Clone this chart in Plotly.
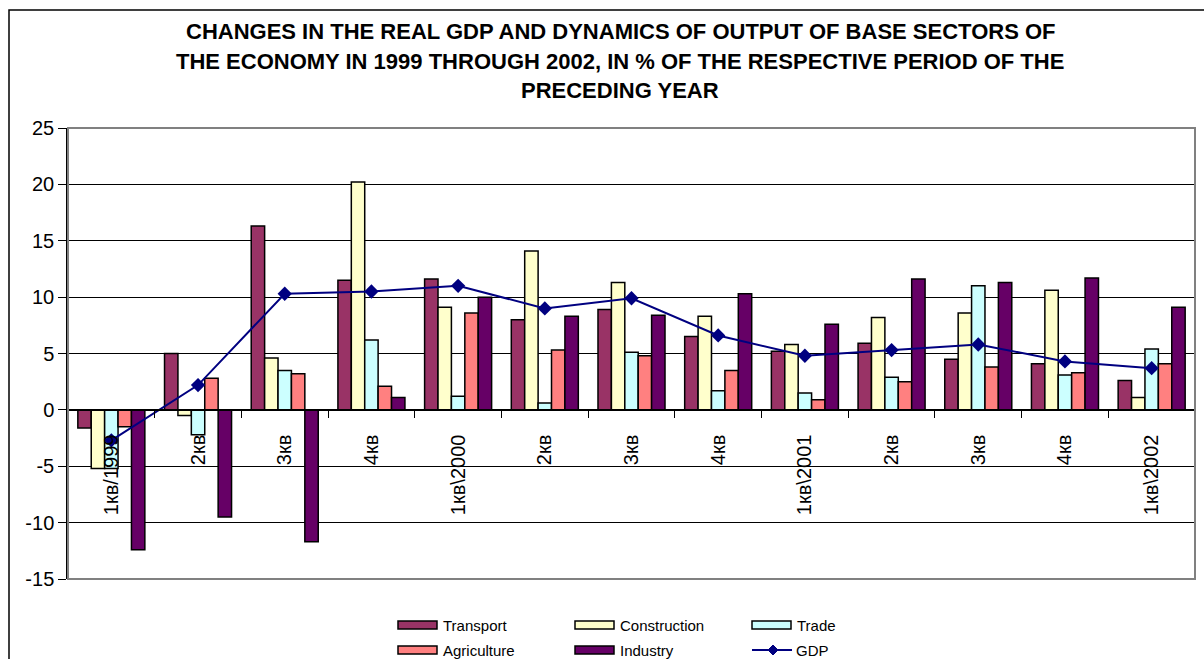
import plotly.graph_objects as go

# Quarter labels along the category axis
quarters = ["1кв/1999", "2кв", "3кв", "4кв", "1кв\\2000", "2кв", "3кв", "4кв",
            "1кв\\2001", "2кв", "3кв", "4кв", "1кв\\2002"]

# Output growth by sector, % of the same period of the preceding year
transport = [-1.6, 5.0, 16.3, 11.5, 11.6, 8.0, 8.9, 6.5, 5.2, 5.9, 4.5, 4.1, 2.6]
construction = [-5.2, -0.5, 4.6, 20.2, 9.1, 14.1, 11.3, 8.3, 5.8, 8.2, 8.6, 10.6, 1.1]
trade = [-5.2, -2.2, 3.5, 6.2, 1.2, 0.6, 5.1, 1.7, 1.5, 2.9, 11.0, 3.1, 5.4]
agriculture = [-1.5, 2.8, 3.2, 2.1, 8.6, 5.3, 4.8, 3.5, 0.9, 2.5, 3.8, 3.3, 4.1]
industry = [-12.4, -9.5, -11.7, 1.1, 10.0, 8.3, 8.4, 10.3, 7.6, 11.6, 11.3, 11.7, 9.1]
gdp = [-2.7, 2.2, 10.3, 10.5, 11.0, 9.0, 9.9, 6.6, 4.8, 5.3, 5.8, 4.3, 3.7]

y_ticks = [-15, -10, -5, 0, 5, 10, 15, 20, 25]

title_lines = [
    "CHANGES IN THE REAL GDP AND DYNAMICS OF OUTPUT OF BASE SECTORS OF",
    "THE ECONOMY IN 1999 THROUGH 2002, IN % OF THE RESPECTIVE PERIOD OF THE",
    "PRECEDING YEAR",
]

bar_series = [
    ("Transport", transport, "#993366"),
    ("Construction", construction, "#FFFFCC"),
    ("Trade", trade, "#CCFFFF"),
    ("Agriculture", agriculture, "#FF8080"),
    ("Industry", industry, "#660066"),
]
gdp_name, gdp_color = "GDP", "#000080"

FONT = "Arial, Liberation Sans, sans-serif"
W, H = 1204, 659
ML, MR, MT, MB = 68, 9, 128, 80
PW, PH = W - ML - MR, H - MT - MB


def px(xp):
    """Pixel column -> paper x."""
    return (xp - ML) / PW


def py(yp):
    """Pixel row -> paper y."""
    return (H - MB - yp) / PH


xs = list(range(len(quarters)))

fig = go.Figure()
for name, vals, color in bar_series:
    fig.add_trace(go.Bar(
        x=xs, y=vals, name=name, marker=dict(color=color, line=dict(color="black", width=1.5)),
        showlegend=False,
    ))

fig.add_trace(go.Scatter(
    x=xs, y=gdp, name=gdp_name, mode="lines+markers",
    line=dict(color=gdp_color, width=2),
    marker=dict(symbol="diamond", size=11, color=gdp_color),
    showlegend=False,
))

shapes = []
annotations = []

# plot-area frame
shapes.append(dict(type="rect", xref="paper", yref="paper", x0=0, x1=1, y0=0, y1=1,
                   line=dict(color="#808080", width=2), layer="above"))
# outer chart frame
shapes.append(dict(type="rect", xref="paper", yref="paper",
                   x0=px(9), x1=px(W + 10), y0=py(H + 10), y1=py(10),
                   line=dict(color="black", width=1.5), layer="above"))

# title
for line, yc in zip(title_lines, [32, 61, 90]):
    annotations.append(dict(text="<b>%s</b>" % line, xref="paper", yref="paper",
                            x=px(620), y=py(yc), xanchor="center", yanchor="middle",
                            showarrow=False, font=dict(family=FONT, size=22, color="black")))

# legend: 2 rows x 3 columns
legend_cols = [398, 575, 752]
legend_rows = [625, 650]
entries = [(n, c, "bar") for n, _, c in bar_series] + [(gdp_name, gdp_color, "line")]
sw_w, sw_h = 39, 8
for i, (name, color, kind) in enumerate(entries):
    x0 = legend_cols[i % 3]
    yc = legend_rows[i // 3]
    if kind == "bar":
        shapes.append(dict(type="rect", xref="paper", yref="paper",
                           x0=px(x0), x1=px(x0 + sw_w), y0=py(yc + sw_h / 2), y1=py(yc - sw_h / 2),
                           fillcolor=color, line=dict(color="black", width=1.5)))
        tx = x0 + sw_w + 4
    else:
        shapes.append(dict(type="line", xref="paper", yref="paper",
                           x0=px(x0), x1=px(x0 + 40), y0=py(yc), y1=py(yc),
                           line=dict(color=color, width=2)))
        cx, d = x0 + 21, 5
        path = "M {} {} L {} {} L {} {} L {} {} Z".format(
            px(cx - d), py(yc), px(cx), py(yc - d), px(cx + d), py(yc), px(cx), py(yc + d))
        shapes.append(dict(type="path", xref="paper", yref="paper", path=path,
                           fillcolor=color, line=dict(color=color, width=1)))
        tx = x0 + 42
    annotations.append(dict(text=name, xref="paper", yref="paper", x=px(tx), y=py(yc),
                            xanchor="left", yanchor="middle", showarrow=False,
                            font=dict(family=FONT, size=15, color="black")))

fig.update_layout(
    width=W, height=H,
    margin=dict(l=ML, r=MR, t=MT, b=MB, pad=0),
    paper_bgcolor="white", plot_bgcolor="white",
    barmode="group", bargap=0.227, bargroupgap=0,
    shapes=shapes, annotations=annotations,
    font=dict(family=FONT, color="black"),
    xaxis=dict(
        range=[-0.5, len(quarters) - 0.5],
        anchor="free", position=15 / 40,
        tickmode="array", tickvals=xs, ticktext=quarters, tickangle=-90,
        ticks="outside", ticklen=6, tickcolor="rgba(0,0,0,0)",
        ticklabelstandoff=10,
        tickfont=dict(family=FONT, size=20, color="black"),
        minor=dict(tickmode="array", tickvals=[i - 0.5 for i in range(len(quarters) + 1)],
                   ticks="outside", ticklen=7, tickcolor="black", tickwidth=1, showgrid=False),
        showline=True, linecolor="black", linewidth=1.5,
        showgrid=False, zeroline=False,
    ),
    yaxis=dict(
        range=[-15, 25], tickmode="array", tickvals=y_ticks,
        ticktext=[str(v) for v in y_ticks],
        ticks="outside", ticklen=8, tickcolor="black", tickwidth=1,
        tickfont=dict(family=FONT, size=20, color="black"),
        showline=True, linecolor="black", linewidth=1.5,
        showgrid=True, gridcolor="black", gridwidth=1,
        zeroline=False,
    ),
)

fig.write_html("out.html")
